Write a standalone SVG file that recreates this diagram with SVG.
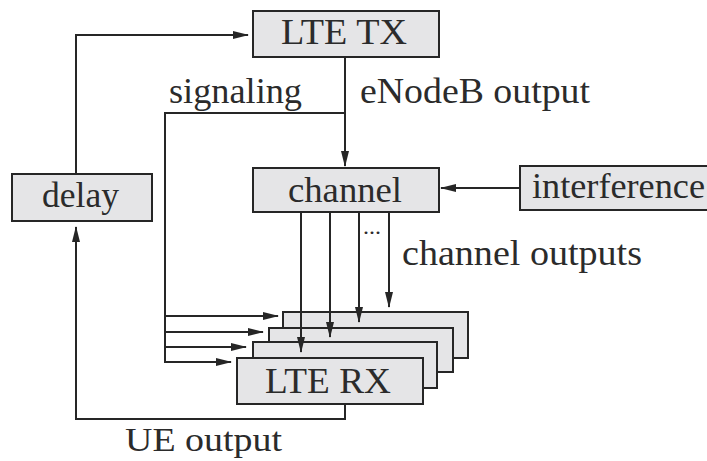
<svg xmlns="http://www.w3.org/2000/svg" width="707" height="461" viewBox="0 0 707 461">
<style>
.box{fill:#e5e5e7;stroke:#262626;stroke-width:2}
.t{font-family:"Liberation Serif","Times New Roman",serif;font-size:36px;fill:#2b2b2b}
.c{fill:none;stroke:#262626;stroke-width:2}
</style>
<defs>
<marker id="ah" markerWidth="16" markerHeight="8" refX="15" refY="4" orient="auto" markerUnits="userSpaceOnUse">
<path d="M0,0 L16,4 L0,8 z" fill="#262626"/>
</marker>
</defs>
<rect width="707" height="461" fill="#ffffff"/>
<g id="lte-tx">
<rect class="box" x="253" y="11" width="186" height="46"/>
<text class="t" x="281" y="44" textLength="126" lengthAdjust="spacingAndGlyphs">LTE TX</text>
</g>
<g id="delay">
<rect class="box" x="12" y="174" width="140" height="47"/>
<text class="t" x="42" y="207" textLength="77" lengthAdjust="spacingAndGlyphs">delay</text>
</g>
<g id="channel">
<rect class="box" x="253" y="168" width="186" height="44"/>
<text class="t" x="288" y="202" textLength="114" lengthAdjust="spacingAndGlyphs">channel</text>
</g>
<g id="interference">
<rect class="box" x="520" y="166" width="192" height="44"/>
<text class="t" x="532" y="198" textLength="173" lengthAdjust="spacingAndGlyphs">interference</text>
</g>
<g id="lte-rx">
<rect class="box" x="283" y="312" width="185" height="46"/>
<rect class="box" x="269" y="328" width="184" height="44"/>
<rect class="box" x="253" y="342" width="184" height="46"/>
</g>
<g id="connectors">
<polyline class="c" points="76,174 76,35 248,35" marker-end="url(#ah)"/>
<line class="c" x1="345" y1="57" x2="345" y2="166" marker-end="url(#ah)"/>
<line class="c" x1="520" y1="188" x2="441" y2="188" marker-end="url(#ah)"/>
<polyline class="c" points="345,113 165,113 165,363"/>
<line class="c" x1="165" y1="316" x2="278" y2="316" marker-end="url(#ah)"/>
<line class="c" x1="165" y1="332" x2="263" y2="332" marker-end="url(#ah)"/>
<line class="c" x1="165" y1="347" x2="246" y2="347" marker-end="url(#ah)"/>
<line class="c" x1="165" y1="362" x2="231" y2="362" marker-end="url(#ah)"/>
<line class="c" x1="301" y1="212" x2="301" y2="352" marker-end="url(#ah)"/>
<line class="c" x1="330" y1="212" x2="330" y2="337" marker-end="url(#ah)"/>
<line class="c" x1="359" y1="212" x2="359" y2="322" marker-end="url(#ah)"/>
<line class="c" x1="389" y1="212" x2="389" y2="307" marker-end="url(#ah)"/>
<polyline class="c" points="345,404 345,419 76,419 76,227" marker-end="url(#ah)"/>
</g>
<g id="lte-rx-front">
<rect class="box" x="237" y="358" width="186" height="46"/>
<text class="t" x="265" y="393" textLength="126" lengthAdjust="spacingAndGlyphs">LTE RX</text>
</g>
<g id="labels">
<text class="t" x="169" y="103" textLength="133" lengthAdjust="spacingAndGlyphs">signaling</text>
<text class="t" x="360" y="103" textLength="230" lengthAdjust="spacingAndGlyphs">eNodeB output</text>
<text class="t" x="402" y="265" textLength="240" lengthAdjust="spacingAndGlyphs">channel outputs</text>
<text class="t" style="font-size:34px" x="125" y="451" textLength="157" lengthAdjust="spacingAndGlyphs">UE output</text>
<text class="t" style="font-size:20px" x="363" y="234" textLength="18" lengthAdjust="spacingAndGlyphs">...</text>
</g>
</svg>
